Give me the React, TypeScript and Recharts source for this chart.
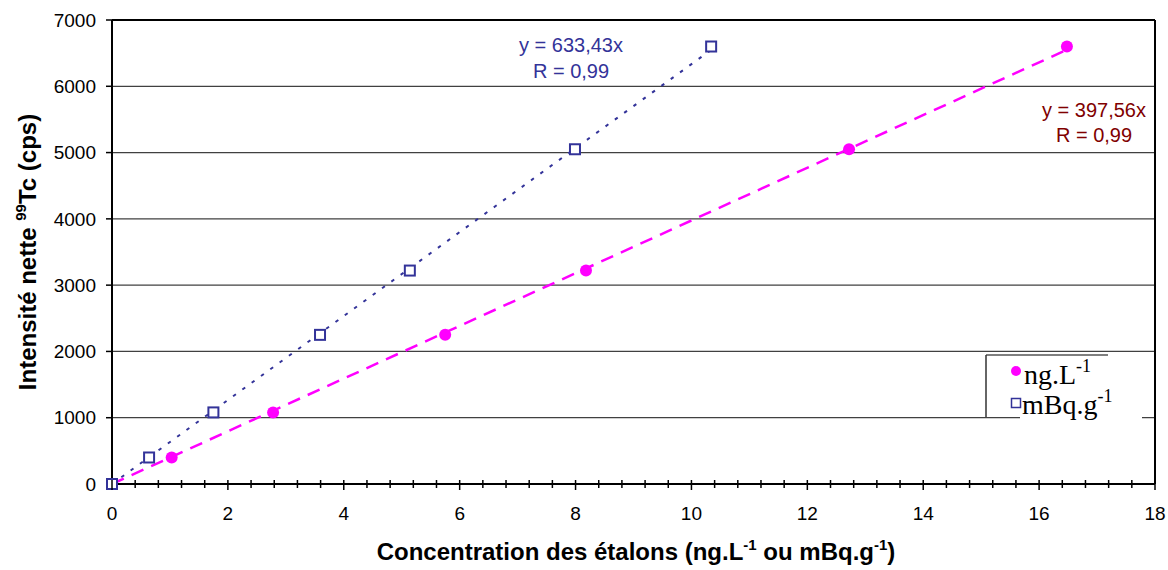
import React from "react"
import {
  ScatterChart,
  Scatter,
  XAxis,
  YAxis,
  CartesianGrid,
  ReferenceLine
} from "recharts"

// net intensity of the standards (cps), same for both unit scales
const intensity = [0, 400, 1080, 2250, 3220, 5050, 6600]
// concentration of the standards
const concNg = [0, 1.03, 2.78, 5.75, 8.18, 12.72, 16.48]
const concMbq = [0, 0.64, 1.75, 3.59, 5.14, 7.99, 10.34]

// fitted slopes shown on the chart
const slopeNg = 397.56
const slopeMbq = 633.43

const xMajorTicks = [0, 2, 4, 6, 8, 10, 12, 14, 16, 18]
const yTicks = [0, 1000, 2000, 3000, 4000, 5000, 6000, 7000]

const PINK = "#FF00FF"
const NAVY = "#333399"
const DARKRED = "#800000"
const SANS = "'Liberation Sans', Arial, sans-serif"
const SERIF = "'Liberation Serif', 'Times New Roman', serif"

const ngData = concNg.map((x, i) => ({ x, y: intensity[i] }))
const mbqData = concMbq.map((x, i) => ({ x, y: intensity[i] }))

const maxNg = Math.max(...concNg)
const maxMbq = Math.max(...concMbq)
const trendNg = [{ x: 0, y: 0 }, { x: maxNg, y: slopeNg * maxNg }]
const trendMbq = [{ x: 0, y: 0 }, { x: maxMbq, y: slopeMbq * maxMbq }]

// minor ticks every 0.4 on the x axis
const xAllTicks = Array.from({ length: 46 }, (_, i) => Math.round(i * 4) / 10)

function XTick(props: any) {
  const { x, y, payload } = props
  const v = payload.value
  const major = xMajorTicks.includes(v)
  return (
    <g>
      <line x1={x} x2={x} y1={y - 4} y2={y + (major ? 6 : 4)} stroke="#000" strokeWidth={1.5} />
      {major && (
        <text x={x} y={y + 36} textAnchor="middle" fontSize={19} fontFamily={SANS} fill="#000">
          {v}
        </text>
      )}
    </g>
  )
}

const noShape = () => <g />

export default function App() {
  return (
    <div style={{ position: "absolute", left: 0, top: 0, width: 1168, height: 570, background: "#fff" }}>
      <ScatterChart
        width={1168}
        height={570}
        margin={{ top: 20, right: 13, left: 0, bottom: 0 }}
      >
        <CartesianGrid vertical={false} stroke="#404040" strokeWidth={1.3} />
        <XAxis
          type="number"
          dataKey="x"
          domain={[0, 18]}
          ticks={xAllTicks}
          interval={0}
          height={86}
          tickSize={0}
          tickMargin={0}
          tickLine={false}
          tick={<XTick />}
          axisLine={{ stroke: "#000", strokeWidth: 2 }}
        />
        <YAxis
          type="number"
          dataKey="y"
          domain={[0, 7000]}
          ticks={yTicks}
          interval={0}
          width={112}
          tickSize={6}
          tickMargin={10}
          tickLine={{ stroke: "#000", strokeWidth: 1.5 }}
          axisLine={{ stroke: "#000", strokeWidth: 2 }}
          tick={{ fill: "#000", fontSize: 19, fontFamily: SANS }}
        />
        <ReferenceLine y={7000} stroke="#000" strokeWidth={2} />
        <ReferenceLine x={18} stroke="#000" strokeWidth={2} />

        <Scatter
          data={trendMbq}
          line={{ stroke: NAVY, strokeWidth: 2, strokeDasharray: "3.5 8" }}
          shape={noShape}
          isAnimationActive={false}
        />
        <Scatter
          data={trendNg}
          line={{ stroke: PINK, strokeWidth: 2.5, strokeDasharray: "13 8.5" }}
          shape={noShape}
          isAnimationActive={false}
        />
        <Scatter
          data={ngData}
          isAnimationActive={false}
          shape={(p: any) => <circle cx={p.cx} cy={p.cy} r={6} fill={PINK} />}
        />
        <Scatter
          data={mbqData}
          isAnimationActive={false}
          shape={(p: any) => (
            <rect x={p.cx - 5} y={p.cy - 5} width={10} height={10} fill="#fff" stroke={NAVY} strokeWidth={2} />
          )}
        />
      </ScatterChart>

      <svg
        width={1168}
        height={570}
        style={{ position: "absolute", left: 0, top: 0, pointerEvents: "none" }}
      >
        {/* fit annotations */}
        <g fontFamily={SANS} fontSize={20} textAnchor="middle">
          <text x={571} y={52} fill={NAVY}>y = 633,43x</text>
          <text x={571} y={78} fill={NAVY}>R = 0,99</text>
          <text x={1094} y={117} fill={DARKRED}>y = 397,56x</text>
          <text x={1094} y={142} fill={DARKRED}>R = 0,99</text>
        </g>

        {/* legend */}
        <rect x={1020} y={356} width={122} height={66} fill="#fff" />
        <line x1={986} y1={355} x2={1108} y2={355} stroke="#555" strokeWidth={1.5} />
        <line x1={986} y1={355} x2={986} y2={417} stroke="#333" strokeWidth={1.5} />
        <circle cx={1016} cy={371} r={5} fill={PINK} />
        <rect x={1011.5} y={398.5} width={9} height={9} fill="none" stroke={NAVY} strokeWidth={1.5} />
        <text x={1024} y={384} fontFamily={SERIF} fontSize={28} fill="#000">
          ng.L<tspan fontSize={18} dy={-12}>-1</tspan>
        </text>
        <text x={1022} y={414} fontFamily={SERIF} fontSize={28} fill="#000">
          mBq.g<tspan fontSize={18} dy={-12}>-1</tspan>
        </text>

        {/* axis titles */}
        <text x={636} y={560} textAnchor="middle" fontFamily={SANS} fontSize={24} fontWeight="bold" fill="#000">
          Concentration des étalons (ng.L<tspan fontSize={15} dy={-10}>-1</tspan>
          <tspan dy={10}> ou mBq.g</tspan>
          <tspan fontSize={15} dy={-10}>-1</tspan>
          <tspan dy={10}>)</tspan>
        </text>
        <text
          transform="translate(36,252) rotate(-90)"
          textAnchor="middle"
          fontFamily={SANS}
          fontSize={24}
          fontWeight="bold"
          fill="#000"
        >
          Intensité nette <tspan fontSize={15} dy={-10}>99</tspan>
          <tspan dy={10}>Tc (cps)</tspan>
        </text>
      </svg>
    </div>
  )
}
